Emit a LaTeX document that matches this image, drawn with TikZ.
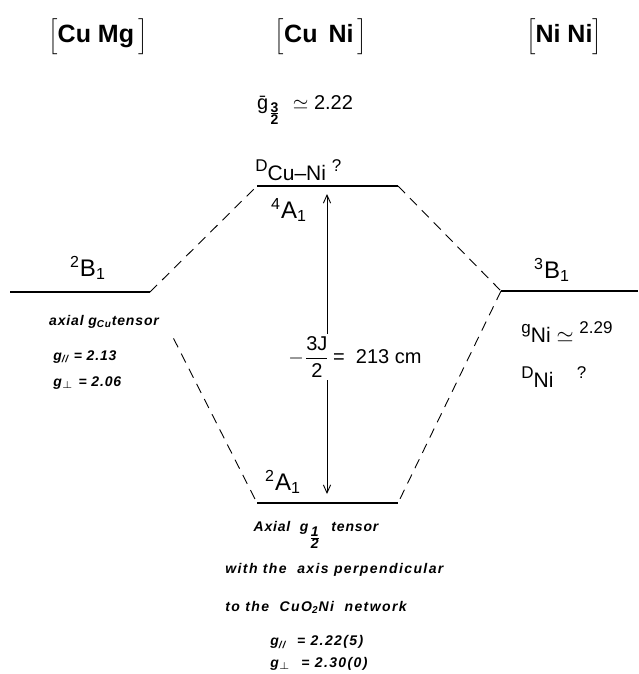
\documentclass[tikz,border=0pt]{standalone}
\usepackage{fontspec}
\setmainfont{Liberation Sans}
\usetikzlibrary{arrows.meta, calc}

\newcommand{\presup}[1]{\raisebox{0.42em}{\fontsize{8.5}{10}\selectfont #1}}

\begin{document}
\begin{tikzpicture}[
  x=0.5pt, y=-0.5pt,
  lvl/.style={line width=0.9pt},
  corr/.style={dash pattern=on 5pt off 3.5pt, line width=0.45pt},
  arrow/.style={{Straight Barb[length=4pt,width=3.6pt]}-{Straight Barb[length=4pt,width=3.6pt]}, line width=0.45pt},
  cpd/.style={font=\fontsize{12.5}{14}\selectfont\bfseries, inner sep=0pt},
  state/.style={font=\fontsize{12}{14}\selectfont, inner sep=0pt},
  note/.style={font=\fontsize{10.5}{12}\selectfont, inner sep=0pt},
  tens/.style={font=\fontsize{7}{8}\selectfont\bfseries\itshape\addfontfeature{LetterSpace=6}, inner sep=0pt},
  wide/.style={tens, font=\fontsize{7}{8}\selectfont\bfseries\itshape\addfontfeature{LetterSpace=10}}
]
\useasboundingbox (0,0) rectangle (638,674);

% compounds
\node[cpd] (cumg) at (98,37) {$\Bigl[$Cu Mg\,$\Bigr]$};
\node[cpd] (cuni) at (321,37) {$\Bigl[$Cu\, Ni\,$\Bigr]$};
\node[cpd] (nini) at (564,37) {$\Bigl[$Ni Ni$\Bigr]$};

% levels
\coordinate (b1L) at (10,292);
\coordinate (b1R) at (150,292);
\coordinate (a4L) at (257,186);
\coordinate (a4R) at (398,186);
\coordinate (a2L) at (257,503);
\coordinate (a2R) at (398,503);
\coordinate (b3L) at (501,291);
\coordinate (b3R) at (638,291);
\draw[lvl] (b1L) -- (b1R);
\draw[lvl] (a4L) -- (a4R);
\draw[lvl] (a2L) -- (a2R);
\draw[lvl] (b3L) -- (b3R);

% correlation lines
\draw[corr] (b1R) -- (a4L);
\draw[corr] (a4R) -- (b3L);
\draw[corr] (b3L) -- (a2R);
\draw[corr] ($(b1R)!0.22!(a2L)$) -- (a2L);

% state labels
\node[state] (sB1) at (88,268) {\textsuperscript{2}B\textsubscript{1}};
\node[state] (sA4) at (289,210) {\textsuperscript{4}A\textsubscript{1}};
\node[state] (sA2) at (283,482) {\textsuperscript{2}A\textsubscript{1}};
\node[state] (sB3) at (552,270) {\textsuperscript{3}B\textsubscript{1}};

% splitting
\coordinate (arT) at (327,194);
\coordinate (arB) at (327,494);
\draw[arrow] (arT) -- (arB);
\node[note, font=\fontsize{10}{12}\selectfont, fill=white, inner sep=1pt] (gap) at (355,357)
  {$\displaystyle -\frac{\mbox{3J}}{\mbox{2}}$\,=\ \ 213 cm};

% CuNi pair
\node[note, font=\fontsize{10}{12}\selectfont] (gbar) at (305,110)
  {\={g}\textsubscript{\scriptsize$\frac{\mbox{\bfseries 3}}{\mbox{\bfseries 2}}$}\ \ $\simeq$\ 2.22};
\node[note, anchor=west] (dcuni) at (255,170) {\presup{D}Cu--Ni\ \presup{?}};

% CuMg pair
\node[tens] (axcu) at (104,322) {axial g\textsubscript{Cu}tensor};
\node[tens, anchor=west] (gpcu) at (53,357) {g\textsubscript{//} = 2.13};
\node[tens, anchor=west] (gncu) at (53,383) {g\textsubscript{$\perp$} = 2.06};

% NiNi pair
\node[note, anchor=west] (gni) at (521,332) {\presup{g}Ni\ $\simeq$\ \presup{2.29}};
\node[note, anchor=west] (dni) at (521,377) {\presup{D}Ni\ \ \ \ \presup{?}};

% ground state tensor
\node[tens] (ax12) at (316,535)
  {Axial\ \ g\textsubscript{\scriptsize$\frac{\mbox{1}}{\mbox{2}}$}\ \ tensor};
\node[wide, anchor=west] (perp) at (225,570) {with\ the\ \ axis\ perpendicular};
\node[wide, anchor=west] (netw) at (225,607) {to\ the\ \ CuO\textsubscript{2}Ni\ \ network};
\node[wide, anchor=west] (gp12) at (270,642) {g\textsubscript{//}\ \ = 2.22(5)};
\node[wide, anchor=west] (gn12) at (270,664) {g\textsubscript{$\perp$}\ \ = 2.30(0)};
\end{tikzpicture}
\end{document}
